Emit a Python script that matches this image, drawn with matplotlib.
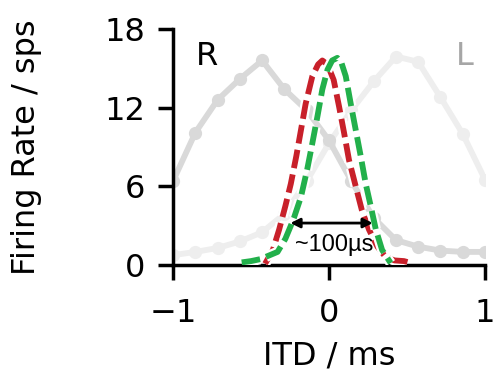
import matplotlib
matplotlib.use('Agg')
from matplotlib import pyplot as plt
import matplotlib.patheffects as pe

# ITD sample positions of the measured tuning curves (ms)
itd = [-1.0, -0.857, -0.714, -0.571, -0.429, -0.286, -0.143, 0.0,
       0.143, 0.286, 0.429, 0.571, 0.714, 0.857, 1.0]
rate_r = [6.4, 10.1, 12.6, 14.2, 15.6, 13.4, 11.8, 9.5,
          6.4, 3.6, 1.9, 1.4, 1.1, 1.0, 1.0]
rate_l = [0.75, 1.0, 1.3, 1.8, 2.5, 3.9, 6.4, 9.3,
          11.8, 14.0, 15.9, 15.5, 12.8, 10.0, 6.5]

# fitted difference curves
red_x = [-0.41, -0.36, -0.32, -0.28, -0.245, -0.21, -0.18, -0.15, -0.107,
         -0.07, -0.043, -0.01, 0.03, 0.064, 0.096, 0.128, 0.171, 0.21,
         0.256, 0.31, 0.363, 0.42, 0.48, 0.54]
red_y = [0.1, 1.15, 2.7, 4.5, 6.2, 8.3, 10.3, 12.3, 14.4,
         15.3, 15.6, 15.3, 14.1, 12.1, 10.1, 8.0, 6.0, 4.2,
         2.7, 1.4, 0.6, 0.35, 0.3, 0.1]
green_x = [-0.56, -0.50, -0.44, -0.39, -0.33, -0.28, -0.245, -0.225, -0.18,
           -0.14, -0.107, -0.075, -0.043, -0.01, 0.02, 0.053, 0.08, 0.107,
           0.139, 0.171, 0.203, 0.235, 0.267, 0.30, 0.34, 0.395]
green_y = [0.2, 0.3, 0.45, 0.7, 1.0, 2.0, 3.0, 3.6, 5.2,
           7.3, 9.3, 11.3, 13.4, 14.9, 15.6, 15.8, 15.4, 14.4,
           12.3, 10.3, 8.3, 6.2, 4.5, 2.7, 1.15, 0.15]

fig = plt.figure(figsize=(4.93, 3.73), dpi=100)
ax = fig.add_axes([0.351, 0.2895, 0.6329, 0.6327])

ax.plot(itd, rate_l, '-o', color='#eeeeee', lw=4.2, ms=8.5, zorder=1)
ax.plot(itd, rate_r, '-o', color='#d9d9d9', lw=4.2, ms=8.5, zorder=2)

outline = [pe.Stroke(linewidth=7.5, foreground='white'), pe.Normal()]
ax.plot(red_x, red_y, color='#c8202a', lw=4.2, dashes=(3.2, 1.1),
        path_effects=outline, zorder=3)
ax.plot(green_x, green_y, color='#22b04b', lw=4.2, dashes=(3.2, 1.1),
        path_effects=outline, zorder=4)

ax.annotate('', xy=(-0.248, 3.2), xytext=(0.28, 3.2),
            arrowprops=dict(arrowstyle='<|-|>', color='black', lw=2.0,
                            mutation_scale=14, shrinkA=0, shrinkB=0),
            zorder=5)
ax.text(0.032, 1.55, '~100\u00b5s', ha='center', va='center', fontsize=17,
        family='Liberation Sans', zorder=5)

ax.text(-0.78, 15.9, 'R', ha='center', va='center', fontsize=23, color='black')
ax.text(0.87, 15.9, 'L', ha='center', va='center', fontsize=23, color='#a6a6a6')

ax.set_xlim(-1, 1)
ax.set_ylim(0, 18)
ax.set_xticks([-1, 0, 1])
ax.set_yticks([0, 6, 12, 18])
ax.spines['top'].set_visible(False)
ax.spines['right'].set_visible(False)
for s in ['left', 'bottom']:
    ax.spines[s].set_linewidth(2.5)
ax.tick_params(width=2.5, length=11, labelsize=23, pad=9)
ax.tick_params(axis='x', pad=13)
ax.set_xlabel('ITD / ms', fontsize=23, labelpad=8)
ax.set_ylabel('Firing Rate / sps', fontsize=23, labelpad=45)

fig.savefig('out.png', dpi=100)
